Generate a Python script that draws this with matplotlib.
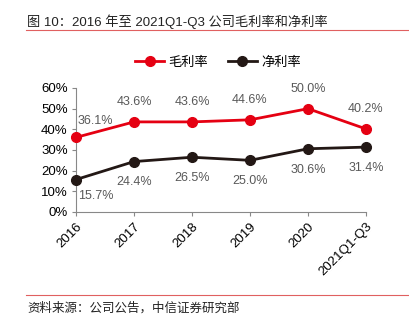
import matplotlib
matplotlib.use("Agg")
import matplotlib.pyplot as plt

# data
years = ["2016", "2017", "2018", "2019", "2020", "2021Q1-Q3"]
gross_margin = [36.1, 43.6, 43.6, 44.6, 50.0, 40.2]
net_margin = [15.7, 24.4, 26.5, 25.0, 30.6, 31.4]
yticks = [0, 10, 20, 30, 40, 50, 60]

plt.rcParams['font.family'] = ['Liberation Sans', 'Noto Sans CJK SC']

red = "#E50012"
dark = "#231815"
grey = "#595959"

fig = plt.figure(figsize=(4.09, 3.26), dpi=100)
ax = fig.add_axes([76 / 409, 1 - 212 / 326, 290 / 409, 124 / 326])

x = list(range(len(years)))
ax.plot(x, gross_margin, '-o', color=red, lw=2, ms=7, label="毛利率", clip_on=False, zorder=3)
ax.plot(x, net_margin, '-o', color=dark, lw=2, ms=7, label="净利率", clip_on=False, zorder=3)

# value labels: gross margin above, net margin below
for i, v in enumerate(gross_margin):
    dx = 14 if i == 0 else 0
    dy = 12 if i == 0 else 14
    ax.annotate("%.1f%%" % v, (i, v), xytext=(dx, dy), textcoords="offset points",
                ha="center", va="center", fontsize=9, color=grey)
for i, v in enumerate(net_margin):
    dx = 14 if i == 0 else 0
    dy = -12 if i == 0 else -15
    ax.annotate("%.1f%%" % v, (i, v), xytext=(dx, dy), textcoords="offset points",
                ha="center", va="center", fontsize=9, color=grey)

ax.set_xlim(0, len(years) - 1)
ax.set_ylim(0, 60)
ax.set_yticks(yticks)
ax.set_yticklabels(["%d%%" % t for t in yticks], fontsize=9.5)
ax.set_xticks(x)
ax.set_xticklabels(years, rotation=45, ha="right", rotation_mode="anchor", fontsize=9.5)
for s in ["top", "right"]:
    ax.spines[s].set_visible(False)
ax.spines["left"].set_color("#888888")
ax.spines["bottom"].set_color("#888888")
ax.tick_params(axis="both", color="#888888", length=3, width=0.8, pad=3)

fig.legend(loc="center", bbox_to_anchor=(218 / 409, 1 - 63 / 326), ncol=2, frameon=False,
           fontsize=9.5, handlelength=2.2, columnspacing=1.5, handletextpad=0.3)

fig.text(27 / 409, 1 - 22 / 326, "图 10：2016 年至 2021Q1-Q3 公司毛利率和净利率",
         fontsize=9.5, va="center", ha="left", color="#222222")
fig.add_artist(plt.Line2D([26 / 409, 1], [1 - 30 / 326] * 2, color="#E06060", lw=0.8))
fig.add_artist(plt.Line2D([26 / 409, 1], [1 - 295 / 326] * 2, color="#E06060", lw=0.8))
fig.text(27 / 409, 1 - 308 / 326, "资料来源：公司公告，中信证券研究部",
         fontsize=9, va="center", ha="left", color="#222222")

fig.savefig("out.png", dpi=100)
